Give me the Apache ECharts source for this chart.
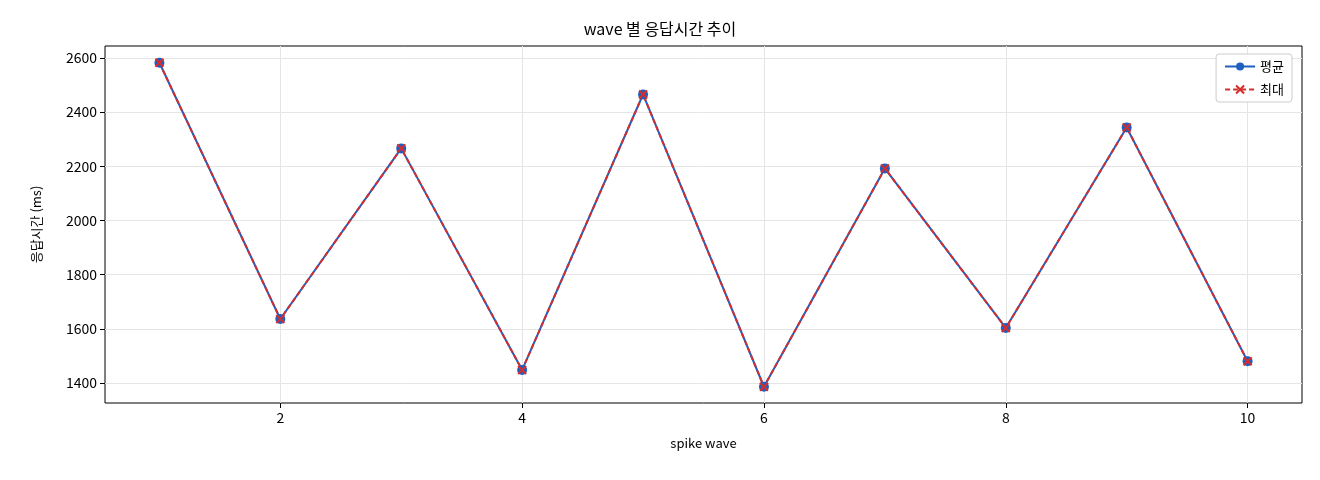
<!DOCTYPE html>
<html><head><meta charset="utf-8">
<script src="https://cdn.jsdelivr.net/npm/echarts@6/dist/echarts.min.js"></script>
<style>html,body{margin:0;background:#fff}#c{width:1320px;height:480px}</style>
</head><body><div id="c"></div>
<script>
const waves = [1,2,3,4,5,6,7,8,9,10];
const avgMs = [2582,1636,2266,1448,2465,1386,2192,1603,2343,1480];
const maxMs = [2582,1636,2266,1448,2465,1386,2192,1603,2343,1480];
const xTicks = [2,4,6,8,10];
const yTicks = [1400,1600,1800,2000,2200,2400,2600];
const F = '"Noto Sans CJK KR", "DejaVu Sans", sans-serif';
const chart = echarts.init(document.getElementById('c'));
chart.setOption({
  animation:false,
  title:{text:'wave 별 응답시간 추이',left:'center',top:16,textStyle:{fontFamily:F,fontSize:16,fontWeight:'normal',color:'#000'}},
  legend:{right:28,top:54,orient:'vertical',backgroundColor:'#fff',borderColor:'#ccc',borderWidth:1,borderRadius:3,padding:[6,8],itemGap:10,itemWidth:30,itemHeight:10,textStyle:{fontFamily:F,fontSize:13,color:'#000'},
    data:['평균','최대']},
  grid:{left:105,right:18,top:46,bottom:77,show:true,borderColor:'#000',borderWidth:1},
  xAxis:{type:'value',min:0.55,max:10.45,name:'spike wave',nameLocation:'middle',nameGap:34,nameTextStyle:{fontFamily:F,fontSize:13,color:'#000'},
    axisLine:{show:false},axisTick:{show:true,customValues:xTicks,lineStyle:{color:'#000'}},
    axisLabel:{customValues:xTicks,fontFamily:F,fontSize:14,color:'#000',formatter:v=>String(v)},
    splitLine:{show:true,customValues:xTicks,lineStyle:{color:'#e5e5e5'}}},
  yAxis:{type:'value',min:1326,max:2644,name:'응답시간 (ms)',nameLocation:'middle',nameGap:62,nameTextStyle:{fontFamily:F,fontSize:13,color:'#000'},
    axisLine:{show:false},axisTick:{show:true,customValues:yTicks,lineStyle:{color:'#000'}},
    axisLabel:{customValues:yTicks,fontFamily:F,fontSize:14,color:'#000',formatter:v=>String(v)},
    splitLine:{show:true,customValues:yTicks,lineStyle:{color:'#e5e5e5'}}},
  series:[
    {name:'평균',type:'line',data:waves.map((w,i)=>[w,avgMs[i]]),symbol:'circle',symbolSize:10,lineStyle:{color:'#1f5fbf',width:2},itemStyle:{color:'#1f5fbf'}},
    {name:'최대',type:'line',data:waves.map((w,i)=>[w,maxMs[i]]),symbol:'path://M-1,-1L1,1M1,-1L-1,1',symbolSize:8,lineStyle:{color:'#d62d2d',width:2,type:[5,3]},itemStyle:{color:'none',borderColor:'#d62d2d',borderWidth:2}}
  ]
});
</script></body></html>
